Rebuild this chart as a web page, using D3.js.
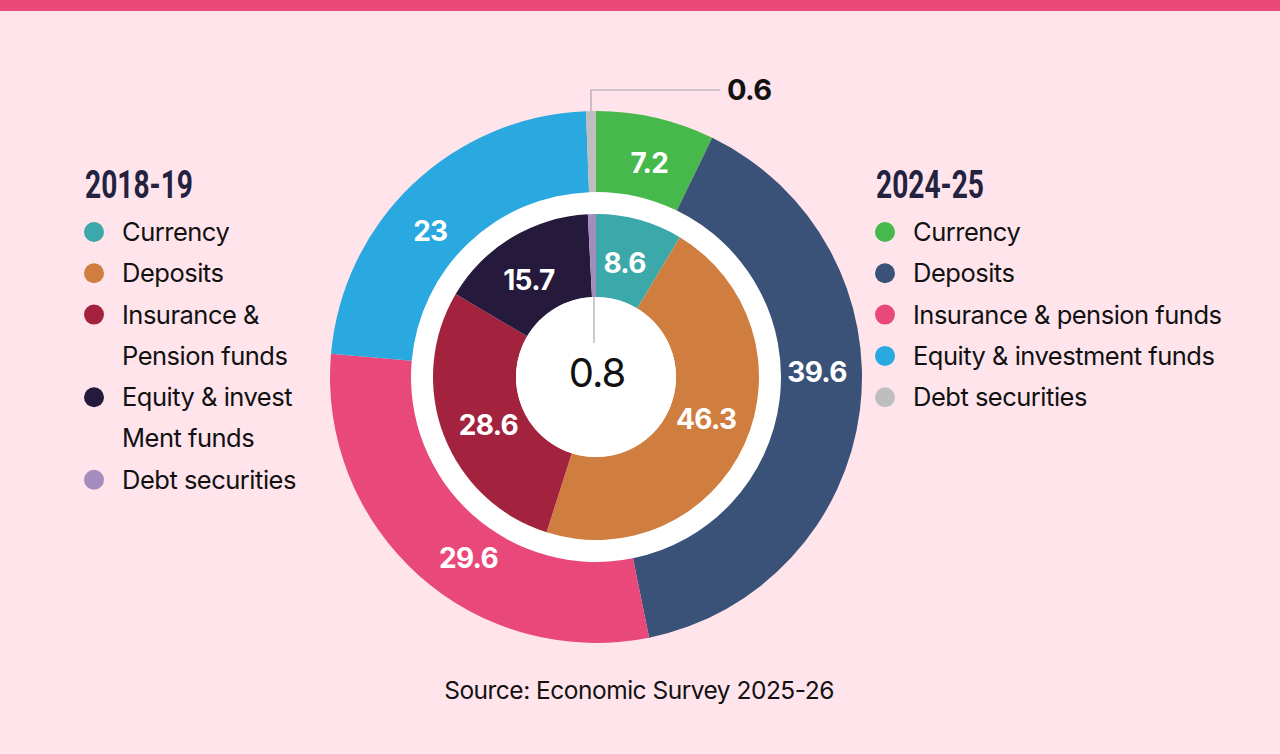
<!DOCTYPE html>
<html><head><meta charset="utf-8">
<script src="https://cdn.jsdelivr.net/npm/d3@7"></script>
<style>
html,body{margin:0;padding:0;background:#FFE4EC;}
svg{display:block;}
</style></head>
<body>
<svg id="chart" width="1280" height="754"></svg>
<script>
// ---- data ----
const categories2019 = ["Currency","Deposits","Insurance & Pension funds","Equity & investment funds","Debt securities"];
const values2019 = [8.6, 46.3, 28.6, 15.7, 0.8];
const colors2019 = ["#3BA8A9","#D07E3F","#A3233F","#25193C","#A58CBF"];
const legend2019 = [["Currency"],["Deposits"],["Insurance &","Pension funds"],["Equity & invest","Ment funds"],["Debt securities"]];

const categories2025 = ["Currency","Deposits","Insurance & pension funds","Equity & investment funds","Debt securities"];
const values2025 = [7.2, 39.6, 29.6, 23, 0.6];
const colors2025 = ["#47B84B","#3A5278","#E8497A","#2AA9E0","#BEBEBE"];
const legend2025 = [["Currency"],["Deposits"],["Insurance & pension funds"],["Equity & investment funds"],["Debt securities"]];

const title2019 = "2018-19", title2025 = "2024-25";
const sourceText = "Source: Economic Survey 2025-26";

// label placement tweaks (degrees added to slice mid-angle, label radius)
const outerLabelNudge = [1, -8.5, -6.5, -5];
const innerLabelNudge = [-1.5, -3.3, -3.3, -3.5];
const outerLabelR = 221, innerLabelR = 118;

const svg = d3.select("#chart");
const W = 1280, H = 754;
svg.append("rect").attr("width", W).attr("height", H).attr("fill", "#FFE4EC");
svg.append("rect").attr("width", W).attr("height", 11).attr("fill", "#EA4A7A");

const cx = 596, cy = 377;
const g = svg.append("g").attr("transform", `translate(${cx},${cy})`);

const pie = d3.pie().sort(null).value(d => d.v);
const outerData = pie(values2025.map((v, i) => ({v, c: colors2025[i], name: categories2025[i]})));
const innerData = pie(values2019.map((v, i) => ({v, c: colors2019[i], name: categories2019[i]})));

const arcOuter = d3.arc().innerRadius(185).outerRadius(266);
const arcInner = d3.arc().innerRadius(80).outerRadius(163);

// white disc behind
g.append("circle").attr("r", 186).attr("fill", "#fff");

// leader for outer debt (0.6)
const lastOuter = outerData[outerData.length - 1];
const midO = (lastOuter.startAngle + lastOuter.endAngle) / 2;
const lx = Math.sin(midO) * 266, ly = -Math.cos(midO) * 266;
g.append("path")
  .attr("d", `M${lx},${ly + 6} L${lx},${-287} L${124},${-287}`)
  .attr("fill", "none").attr("stroke", "#A9A3A8").attr("stroke-width", 1.2);

g.selectAll("path.outer").data(outerData).join("path")
  .attr("class", "outer").attr("d", arcOuter).attr("fill", d => d.data.c);

g.selectAll("path.inner").data(innerData).join("path")
  .attr("class", "inner").attr("d", arcInner).attr("fill", d => d.data.c);

g.append("circle").attr("r", 80).attr("fill", "#fff");

// leader for inner debt (0.8)
const lastInner = innerData[innerData.length - 1];
const midI = (lastInner.startAngle + lastInner.endAngle) / 2;
const ix = Math.sin(midI) * 80;
g.append("line").attr("x1", ix).attr("x2", ix).attr("y1", -80).attr("y2", -34)
  .attr("stroke", "#A9A9A9").attr("stroke-width", 1.2);

function labelPos(d, nudge, r) {
  const a = (d.startAngle + d.endAngle) / 2 + nudge * Math.PI / 180;
  return [Math.sin(a) * r, -Math.cos(a) * r];
}

const labFont = "'Inter','Roboto',sans-serif";
g.selectAll("text.olab").data(outerData.slice(0, -1)).join("text")
  .attr("class", "olab")
  .attr("transform", (d, i) => `translate(${labelPos(d, outerLabelNudge[i], outerLabelR)})`)
  .attr("text-anchor", "middle").attr("dy", "0.36em")
  .attr("fill", "#fff").attr("font-family", labFont).attr("font-weight", 700)
  .attr("font-size", 28).attr("letter-spacing", -0.7)
  .text(d => d.data.v);

g.selectAll("text.ilab").data(innerData.slice(0, -1)).join("text")
  .attr("class", "ilab")
  .attr("transform", (d, i) => `translate(${labelPos(d, innerLabelNudge[i], innerLabelR)})`)
  .attr("text-anchor", "middle").attr("dy", "0.36em")
  .attr("fill", "#fff").attr("font-family", labFont).attr("font-weight", 700)
  .attr("font-size", 28).attr("letter-spacing", -0.7)
  .text(d => d.data.v);

// small value labels
g.append("text").attr("x", 1).attr("y", -4).attr("dy", "0.36em")
  .attr("text-anchor", "middle").attr("fill", "#111")
  .attr("font-family", labFont).attr("font-size", 40).attr("letter-spacing", -1)
  .text(lastInner.data.v);
g.append("text").attr("x", 131).attr("y", -287).attr("dy", "0.36em")
  .attr("text-anchor", "start").attr("fill", "#111")
  .attr("font-family", labFont).attr("font-weight", 700).attr("font-size", 29).attr("letter-spacing", -0.7)
  .text(lastOuter.data.v);

// legends
function legend(x, title, items, colors) {
  const lg = svg.append("g");
  lg.append("text").attr("x", x).attr("y", 198)
    .attr("fill", "#23223F").attr("font-family", "'Roboto','DejaVu Sans',sans-serif")
    .attr("font-weight", 700).attr("font-size", 39)
    .attr("textLength", 108).attr("lengthAdjust", "spacingAndGlyphs")
    .text(title);
  let row = 0;
  items.forEach((lines, i) => {
    const y0 = 232 + row * 41.3;
    lg.append("circle").attr("cx", x + 9).attr("cy", y0).attr("r", 10).attr("fill", colors[i]);
    lines.forEach((ln, j) => {
      lg.append("text").attr("x", x + 37).attr("y", y0 + j * 41.3).attr("dy", "0.35em")
        .attr("fill", "#111").attr("font-family", "'Inter','Roboto',sans-serif")
        .attr("font-size", 25.5).attr("letter-spacing", -0.5)
        .text(ln);
    });
    row += lines.length;
  });
}
legend(85, title2019, legend2019, colors2019);
legend(876, title2025, legend2025, colors2025);

svg.append("text").attr("x", 639).attr("y", 690).attr("dy", "0.35em")
  .attr("text-anchor", "middle").attr("fill", "#111")
  .attr("font-family", "'Inter','Roboto',sans-serif").attr("font-size", 24.5).attr("letter-spacing", -0.5)
  .text(sourceText);
</script>
</body></html>
